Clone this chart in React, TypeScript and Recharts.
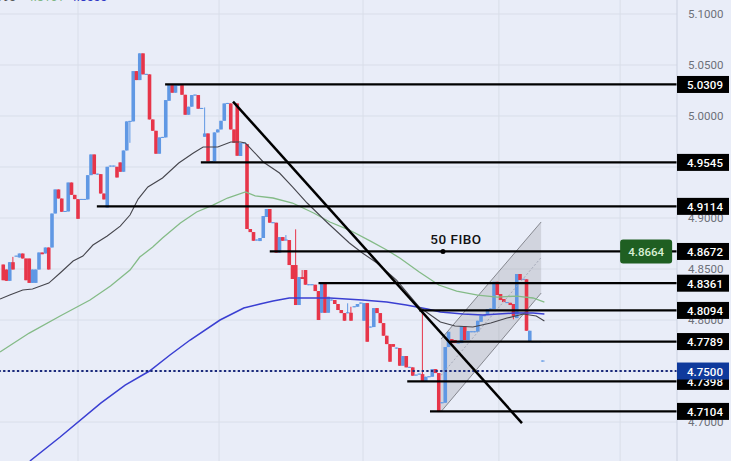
import { ComposedChart, Bar, Line, Area, XAxis, YAxis, CartesianGrid, ReferenceLine, ReferenceDot } from 'recharts'

// one candle per entry, first one is bar 1
const opens = [
  4.8544, 4.8495, 4.8384, 4.8567, 4.8621, 4.8613, 4.8652, 4.8603, 4.8603, 4.8364, 4.8364, 4.8495, 4.8662, 4.8652,
  4.8711, 4.8711, 4.9044, 4.9280, 4.9191, 4.9059, 4.9064, 4.9348, 4.9227, 4.9185, 4.9177, 4.9177, 4.9182, 4.9420,
  4.9623, 4.9425, 4.9430, 4.9240, 4.9103, 4.9504, 4.9504, 4.9502, 4.9545, 4.9453, 4.9662, 4.9942, 4.9947, 5.0440,
  5.0352, 5.0614, 5.0403, 5.0408, 4.9966, 4.9855, 4.9630, 4.9785, 4.9790, 5.0149, 5.0303, 5.0228, 5.0298, 5.0303,
  5.0208, 5.0012, 5.0091, 5.0200, 5.0205, 5.0069, 4.9796, 4.9829, 4.9549, 4.9554, 4.9839, 4.9868, 4.9953, 5.0118,
  5.0123, 4.9868, 5.0123, 4.9608, 4.9730, 4.9725, 4.8892, 4.8862, 4.8779, 4.8774, 4.8804, 4.9010, 4.9088, 4.8949,
  4.8954, 4.8660, 4.8813, 4.8779, 4.8784, 4.8539, 4.8539, 4.8147, 4.8421, 4.8490, 4.8341, 4.8341, 4.8346, 4.8284,
  4.8071, 4.8362, 4.8071, 4.8191, 4.8196, 4.8157, 4.8098, 4.8068, 4.8066, 4.8071, 4.8125, 4.8130, 4.8161, 4.7993,
  4.8166, 4.7926, 4.7931, 4.8117, 4.8068, 4.7970, 4.7846, 4.7764, 4.7764, 4.7720, 4.7725, 4.7552, 4.7647, 4.7531,
  4.7536, 4.7455, 4.7465, 4.7470, 4.7395, 4.7439, 4.7444, 4.7519, 4.7480, 4.7184, 4.7189, 4.7735, 4.7813, 4.7804,
  4.7769, 4.7774, 4.7941, 4.7804, 4.7880, 4.7880, 4.7885, 4.7983, 4.8037, 4.8049, 4.8103, 4.8108, 4.8375, 4.8255,
  4.8206, 4.8166, 4.8169, 4.8157, 4.8019, 4.8451, 4.8394, 4.8399, 4.7787, 4.7782, 4.7782, 4.7782, 4.7593,
]
const closes = [
  4.8390, 4.8384, 4.8567, 4.8495, 4.8631, 4.8652, 4.8603, 4.8390, 4.8364, 4.8495, 4.8495, 4.8662, 4.8645, 4.8711,
  4.8495, 4.9044, 4.9280, 4.9191, 4.9061, 4.9069, 4.9348, 4.9227, 4.9185, 4.8992, 4.9187, 4.9187, 4.9420, 4.9623,
  4.9430, 4.9435, 4.9240, 4.9182, 4.9502, 4.9514, 4.9514, 4.9397, 4.9453, 4.9662, 4.9947, 4.9952, 5.0440, 5.0352,
  5.0614, 5.0408, 5.0413, 4.9966, 4.9855, 4.9630, 4.9790, 4.9795, 5.0156, 5.0303, 5.0228, 5.0303, 5.0308, 5.0208,
  5.0012, 5.0091, 5.0205, 5.0210, 5.0071, 5.0079, 4.9829, 4.9554, 4.9559, 4.9839, 4.9868, 4.9953, 5.0123, 5.0128,
  4.9868, 4.9737, 4.9610, 4.9735, 4.9740, 4.8892, 4.8862, 4.8777, 4.8789, 4.8804, 4.9019, 4.9088, 4.8954, 4.8959,
  4.8660, 4.8813, 4.8777, 4.8789, 4.8539, 4.8402, 4.8147, 4.8421, 4.8402, 4.8346, 4.8351, 4.8351, 4.8284, 4.8000,
  4.8362, 4.8071, 4.8228, 4.8201, 4.8157, 4.8098, 4.8068, 4.7993, 4.8076, 4.7993, 4.8135, 4.8157, 4.8171, 4.8166,
  4.7787, 4.7936, 4.8117, 4.8068, 4.7970, 4.7846, 4.7764, 4.7591, 4.7738, 4.7730, 4.7552, 4.7647, 4.7536, 4.7541,
  4.7454, 4.7465, 4.7475, 4.7395, 4.7444, 4.7449, 4.7519, 4.7480, 4.7098, 4.7194, 4.7735, 4.7885, 4.7774, 4.7774,
  4.7779, 4.7941, 4.7804, 4.7892, 4.7890, 4.7890, 4.7993, 4.8042, 4.8047, 4.8108, 4.8113, 4.8375, 4.8245, 4.8196,
  4.8176, 4.8176, 4.8147, 4.8040, 4.8451, 4.8392, 4.8404, 4.7895, 4.7895, 4.7792, 4.7792, 4.7792, 4.7603,
]
// the few candles with a visible wick: bar number, high, low
const wickBars = [4, 40, 63, 88, 91, 93, 107, 108, 130, 158]
const wickHighs = [4.8619, 4.9952, 5.0084, 4.8833, 4.8889, 4.8490, 4.8164, 4.8130, 4.8098, 4.8157]
const wickLows = [4.8495, 4.9737, 4.9796, 4.8779, 4.8147, 4.8402, 4.8066, 4.7993, 4.7395, 4.8007]

const blackMaBars = [0, 3, 7, 10, 15, 18.5, 22.5, 25.5, 28.6, 33, 37, 40, 42.5, 45.5, 50, 55, 59.5, 62.5, 67, 71, 74, 75.5, 77, 81, 86, 90, 94.5, 100.5, 107.5, 111.5, 116, 122, 129, 135.5, 140, 145.5, 151, 156, 161, 165, 167.5]
const blackMa = [4.8206, 4.8245, 4.8294, 4.8304, 4.8362, 4.8461, 4.8578, 4.8627, 4.8735, 4.8823, 4.8921, 4.9029, 4.9186, 4.9304, 4.9392, 4.9539, 4.9637, 4.9696, 4.9696, 4.9745, 4.9745, 4.9735, 4.9686, 4.9549, 4.9441, 4.9304, 4.9147, 4.8961, 4.8755, 4.8657, 4.8559, 4.8392, 4.8127, 4.7980, 4.7941, 4.7931, 4.7970, 4.8019, 4.8059, 4.8039, 4.7990]
const greenMaBars = [0, 9, 18.5, 27.7, 34, 40, 43, 47, 50, 55.5, 60.5, 65.5, 70, 75.5, 78.5, 84, 90, 96.5, 101.5, 107.5, 114, 119, 123, 129, 135, 140.5, 147, 153, 159, 164, 167.5]
const greenMa = [4.7686, 4.7872, 4.8039, 4.8196, 4.8333, 4.8490, 4.8617, 4.8715, 4.8804, 4.8951, 4.9059, 4.9127, 4.9196, 4.9255, 4.9216, 4.9196, 4.9147, 4.9049, 4.8961, 4.8882, 4.8774, 4.8686, 4.8608, 4.8470, 4.8343, 4.8284, 4.8245, 4.8225, 4.8235, 4.8216, 4.8176]
const blueMaBars = [9.2, 18.5, 31, 38.5, 46, 52.3, 58.5, 67.7, 75, 80, 84, 89, 96.5, 101.5, 111.5, 119, 125, 131.5, 135.5, 142.5, 148.5, 158, 164, 167.5]
const blueMa = [4.6618, 4.6853, 4.7186, 4.7362, 4.7500, 4.7657, 4.7804, 4.8000, 4.8117, 4.8157, 4.8186, 4.8216, 4.8216, 4.8216, 4.8196, 4.8176, 4.8147, 4.8108, 4.8078, 4.8059, 4.8049, 4.8068, 4.8068, 4.8059]

// horizontal drawings: price and the bar they start from
const levels = [5.0309, 4.9545, 4.9114, 4.8672, 4.8361, 4.8094, 4.7789, 4.7398, 4.7104]
const levelStarts = [50.8, 61.8, 29.8, 83, 98, 129, 138.5, 125.3, 132.3]
const currentPrice = 4.75
const fiboPrice = 4.8664

const priceTicks = [5.1, 5.05, 5, 4.9, 4.85, 4.8, 4.7]
const priceGrid = [5.1, 5.05, 5, 4.95, 4.9, 4.85, 4.8, 4.75, 4.7]
const timeGrid = [24, 67.4, 111.7, 153.5, 190.8]

// legend line, cut off by the top of the screenshot
const legendTexts = ['993', '4.8161', '4.8555']

const LAST_BAR = 208.3
const channelBars = [135.7, 166.5]
const channelLows = [4.7102, 4.8264]
const channelHighs = [4.7813, 4.8961]
const trendBars = [71.7, 160.6]
const trendPrices = [5.0141, 4.699]

const UP = '#6098e4'
const DOWN = '#e73549'
const FONT = 'Roboto, sans-serif'

const candles = opens.map((open, idx) => {
  const bar = idx + 1
  const w = wickBars.indexOf(bar)
  const top = Math.max(open, closes[idx])
  const bottom = Math.min(open, closes[idx])
  return {
    bar,
    body: [bottom, top],
    wick: w >= 0 ? [wickLows[w], wickHighs[w]] : [bottom, top],
    up: closes[idx] >= open,
  }
})
const toLine = (bars: number[], values: number[]) => bars.map((bar, i) => ({ bar, value: values[i] }))
const channel = channelBars.map((bar, i) => ({ bar, range: [channelLows[i], channelHighs[i]] }))

// bars on a tight numeric axis get squeezed, so widen them round their centre
function CandleRect({ x, y, width, height, payload, size }: any) {
  return <rect x={x + width / 2 - size / 2} y={y} width={size} height={height} fill={payload.up ? UP : DOWN} />
}

function PriceTick({ x, y, payload }: any) {
  const value = payload.value
  const isLevel = levels.includes(value)
  const isCurrent = value === currentPrice
  if (!isLevel && !isCurrent) {
    return (
      <text x={x + 11} y={y + 4} fontSize={11.5} fontFamily={FONT} fill="#6d7079">
        {value.toFixed(4)}
      </text>
    )
  }
  return (
    <g>
      <rect x={x} y={y - 8.5} width={52} height={17} fill={isCurrent ? '#0f3a9c' : '#000'} />
      <text x={x + 28} y={y + 4.5} textAnchor="middle" fontSize={11.5} fontWeight={500} fontFamily={FONT} fill="#fff">
        {value.toFixed(4)}
      </text>
    </g>
  )
}

function FiboTag({ cx, cy }: any) {
  return (
    <g>
      <rect x={cx - 26} y={cy - 12} width={52} height={24} rx={3} fill="#1f5f22" />
      <text x={cx} y={cy + 4.5} textAnchor="middle" fontSize={11.5} fontWeight={500} fontFamily={FONT} fill="#d9f0d4">
        {fiboPrice.toFixed(4)}
      </text>
    </g>
  )
}

function FiboText({ cx, cy }: any) {
  return (
    <text x={cx} y={cy - 7} textAnchor="middle" fontSize={13.5} fontWeight={500} fontFamily={FONT} fill="#111" letterSpacing={0.5}>
      50 FIBO
    </text>
  )
}

export default function App() {
  return (
    <div style={{ position: 'absolute', left: 0, top: 0, width: 731, height: 461, background: '#e9edf8', overflow: 'hidden' }}>
      <ComposedChart width={731} height={461} data={candles} margin={{ top: 0, right: 0, bottom: 0, left: 0 }} barCategoryGap={0} barGap={0}>
        <CartesianGrid stroke="#d9dee9" strokeWidth={1} horizontalValues={priceGrid} verticalValues={timeGrid} />
        <XAxis dataKey="bar" type="number" domain={[0, LAST_BAR]} hide />
        <XAxis xAxisId="wick" dataKey="bar" type="number" domain={[0, LAST_BAR]} hide />
        <YAxis
          orientation="right"
          width={54}
          domain={[4.6618, 5.1137]}
          allowDataOverflow
          ticks={[...priceTicks, ...levels, currentPrice]}
          interval={0}
          tick={<PriceTick />}
          tickLine={false}
          tickSize={0}
          tickMargin={0}
          axisLine={{ stroke: '#cbd1e0' }}
        />

        <Area data={channel} dataKey="range" type="linear" fill="#8f9198" fillOpacity={0.27} stroke="none" isAnimationActive={false} />
        <ReferenceLine segment={[{ x: channelBars[0], y: channelLows[0] }, { x: channelBars[1], y: channelLows[1] }]} stroke="#85878f" />
        <ReferenceLine segment={[{ x: channelBars[0], y: channelHighs[0] }, { x: channelBars[1], y: channelHighs[1] }]} stroke="#85878f" />
        <ReferenceLine
          segment={[
            { x: channelBars[0], y: (channelLows[0] + channelHighs[0]) / 2 },
            { x: channelBars[1], y: (channelLows[1] + channelHighs[1]) / 2 },
          ]}
          stroke="#a4a8b8"
          strokeDasharray="2 2"
        />

        <Line data={toLine(greenMaBars, greenMa)} dataKey="value" stroke="#84bb87" strokeWidth={1.3} dot={false} isAnimationActive={false} />
        <Line data={toLine(blueMaBars, blueMa)} dataKey="value" stroke="#3a3fd2" strokeWidth={1.5} dot={false} isAnimationActive={false} />
        <Line data={toLine(blackMaBars, blackMa)} dataKey="value" stroke="#45454c" strokeWidth={1.1} dot={false} isAnimationActive={false} />

        <Bar xAxisId="wick" dataKey="wick" isAnimationActive={false} shape={<CandleRect size={1} />} />
        <Bar dataKey="body" isAnimationActive={false} shape={<CandleRect size={3.6} />} />

        <ReferenceLine y={currentPrice} stroke="#1b2a7c" strokeWidth={2} strokeDasharray="2.3 2.3" />
        {levels.map((level, i) => (
          <ReferenceLine key={level} segment={[{ x: levelStarts[i], y: level }, { x: LAST_BAR, y: level }]} stroke="#000" strokeWidth={2.2} />
        ))}
        <ReferenceLine segment={[{ x: trendBars[0], y: trendPrices[0] }, { x: trendBars[1], y: trendPrices[1] }]} stroke="#000" strokeWidth={2.5} />
        <ReferenceDot x={136.3} y={levels[3]} r={2.5} fill="#000" stroke="none" />
        <ReferenceDot x={140.3} y={levels[3]} shape={<FiboText />} />
        <ReferenceDot x={198.8} y={levels[3]} shape={<FiboTag />} />
      </ComposedChart>
      <div style={{ position: 'absolute', left: 0, top: -9, fontFamily: FONT, fontSize: 12, lineHeight: '12px', whiteSpace: 'nowrap' }}>
        <span style={{ position: 'absolute', left: -4, color: '#555' }}>{legendTexts[0]}</span>
        <span style={{ position: 'absolute', left: 27, color: '#7fb884' }}>{legendTexts[1]}</span>
        <span style={{ position: 'absolute', left: 70, color: '#2c35c4' }}>{legendTexts[2]}</span>
      </div>
    </div>
  )
}
